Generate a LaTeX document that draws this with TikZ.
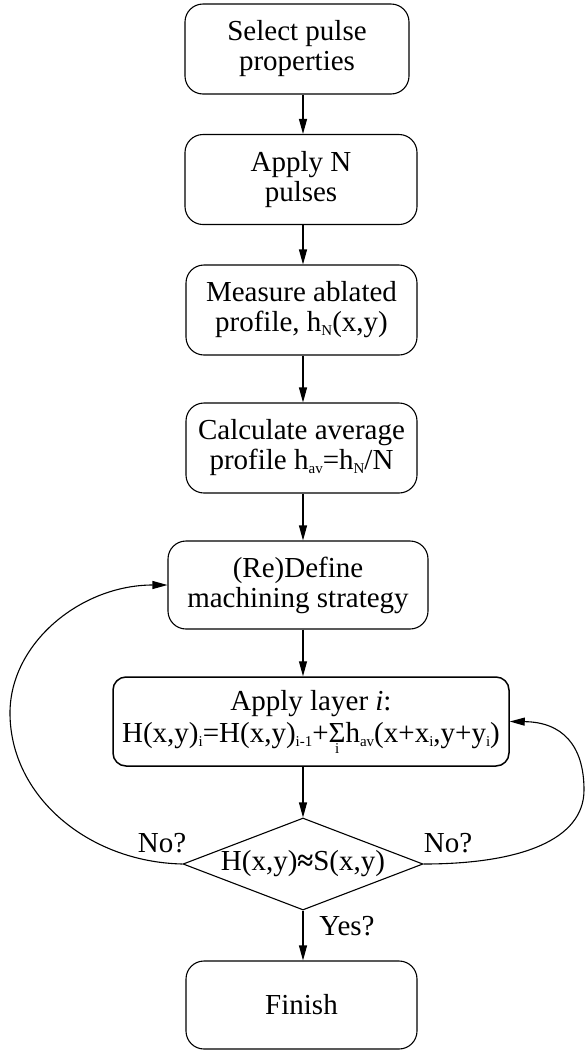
\documentclass[tikz,border=0pt]{standalone}
\usepackage{fontspec}
\setmainfont{Liberation Serif}
\usetikzlibrary{arrows.meta,shapes.geometric}
% lowered small subscript in text font
\newcommand{\dn}[1]{\raisebox{-4pt}{\fontsize{15}{15}\selectfont #1}}
% summation sign with index set underneath
\newcommand{\sumi}{\leavevmode\setbox0\hbox{Σ}\copy0\kern-\wd0\hbox to\wd0{\hss\raisebox{-11pt}{\fontsize{15}{15}\selectfont i}\hss}}
\begin{document}
\begin{tikzpicture}[x=1pt,y=-1pt,
  font=\fontsize{29}{30}\selectfont,
  line width=1.1pt,
  stepbox/.style={draw, rounded corners=18pt, align=center, inner sep=0pt, minimum height=90pt},
  flow/.style={-{Triangle[length=15pt,width=8pt]}},
  lbl/.style={inner sep=0pt}]
\useasboundingbox (0,0) rectangle (585,1050);

% process steps
\node[stepbox, minimum width=224pt] (b1) at (297,49) {Select pulse\\properties};
\node[stepbox, minimum width=232pt] (b2) at (301,179.5) {Apply N\\pulses};
\node[stepbox, minimum width=231pt] (b3) at (301.5,310) {Measure ablated\\profile, h\dn{N}(x,y)};
\node[stepbox, minimum width=231pt] (b4) at (301.5,448) {Calculate average\\profile h\dn{av}=h\dn{N}/N};
\node[stepbox, minimum width=260pt, minimum height=88pt] (b5) at (298,585) {(Re)Define\\machining strategy};
\node[stepbox, rounded corners=13pt, line width=1.5pt, minimum width=396pt, minimum height=89pt] (b6) at (311,721.5)
  {Apply layer \textit{i}:\\[2pt]H(x,y)\dn{i}=H(x,y)\dn{i-1}+\sumi h\dn{av}(x+x\dn{i},y+y\dn{i})};
\node[diamond, draw, inner sep=0pt, minimum width=240pt, minimum height=92pt] (chk) at (303,864)
  {\makebox[0pt]{H(x,y)\textbf{≈}S(x,y)}};
\node[stepbox, minimum width=231pt, minimum height=88pt] (fin) at (301.5,1005) {Finish};

% decision labels
\node[lbl] (nol) at (162,843) {No?};
\node[lbl] (nor) at (448,843) {No?};
\node[lbl] (yes) at (347,926) {Yes?};

% main flow
\draw[flow] (b1.south -| chk.north) -- (b2.north -| chk.north);
\draw[flow] (b2.south -| chk.north) -- (b3.north -| chk.north);
\draw[flow] (b3.south -| chk.north) -- (b4.north -| chk.north);
\draw[flow] (b4.south -| chk.north) -- (b5.north -| chk.north);
\draw[flow] (b5.south -| chk.north) -- (b6.north -| chk.north);
\draw[flow] (b6.south -| chk.north) -- (chk.north);
\draw[flow] (chk.south) -- (fin.north -| chk.south);

% feedback loops
\draw[flow] (chk.west) .. controls (88,862) and (10,796) .. (10,713)
  .. controls (10,643) and (81,585) .. (b5.west);
\draw[flow] (chk.east) .. controls (520,864) and (584,840) .. (584,790)
  .. controls (584,745) and (562,722) .. (b6.east);
\end{tikzpicture}
\end{document}
